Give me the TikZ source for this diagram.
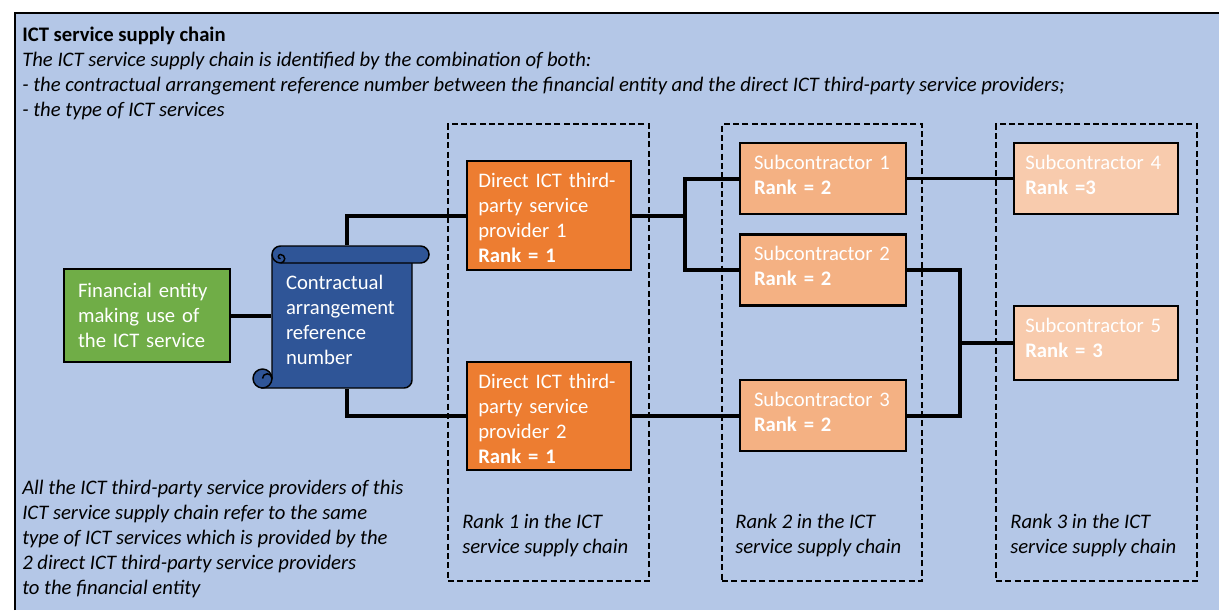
\documentclass[tikz,border=0pt]{standalone}
\usepackage{fontspec}
\setmainfont{Carlito}
\newcommand\diafont{\fontsize{15.5}{18.75}\selectfont}
\definecolor{panelbg}{HTML}{B4C7E7}
\definecolor{entgreen}{HTML}{70AD47}
\definecolor{dirorange}{HTML}{ED7D31}
\definecolor{subtwo}{HTML}{F4B183}
\definecolor{subthree}{HTML}{F8CBAD}
\definecolor{scrollblue}{HTML}{2F5597}
\tikzset{
  box/.style={draw, line width=1.6pt, text=white, align=left, inner xsep=10.5pt,
    inner ysep=0pt, text width=103.5pt, text height=19.5pt},
  widebox/.style={box, inner xsep=8.5pt, text width=106pt},
  rankframe/.style={draw, line width=1.5pt, dash pattern=on 4.5pt off 2.5pt, inner sep=0pt},
  ranklbl/.style={anchor=north west, inner sep=0pt, align=left, font=\diafont\itshape},
  link/.style={line width=3pt},
  thinlink/.style={line width=2.2pt}
}
\begin{document}
\begin{tikzpicture}[x=0.75pt,y=-0.75pt,every node/.style={font=\diafont}]
  \useasboundingbox (0,0) rectangle (1219,610);
  % panel
  \fill[panelbg] (15,13) rectangle (1219,610);
  \draw[line width=2.2pt] (15,610) -- (15,13) -- (1219,13);
  \node[anchor=north west, inner sep=0pt, align=left] (head) at (22,27)
    {\textbf{ICT service supply chain}\\
     \textit{The ICT service supply chain is identified by the combination of both:}\\
     \textit{- the contractual arrangement reference number between the financial entity and the direct ICT third-party service providers;}\\
     \textit{- the type of ICT services}};
  \node[ranklbl] (note) at (22,480)
    {All the ICT third-party service providers of this\\
     ICT service supply chain refer to the same\\
     type of ICT services which is provided by the\\
     2 direct ICT third-party service providers\\
     to the financial entity};
  % rank frames
  \node[rankframe, minimum width=150.75pt, minimum height=342.75pt] (rk1) at (548.5,352.5) {};
  \node[rankframe, minimum width=150pt, minimum height=342.75pt] (rk2) at (822,352.5) {};
  \node[rankframe, minimum width=150.75pt, minimum height=342.75pt] (rk3) at (1096.5,352.5) {};
  \node[ranklbl] (rl1) at (462,514) {Rank 1 in the ICT\\service supply chain};
  \node[ranklbl] (rl2) at (735,514) {Rank 2 in the ICT\\service supply chain};
  \node[ranklbl] (rl3) at (1010,514) {Rank 3 in the ICT\\service supply chain};
  % financial entity
  \node[box, fill=entgreen, text height=21pt, text depth=48.75pt] (fe) at (147,315.5)
    {Financial entity\\making use of\\the ICT service};
  % contract scroll
  \begin{scope}[line width=1.1pt]
    \filldraw[fill=scrollblue] (262.5,388) -- (404,388) arc[start angle=-90,end angle=0,radius=6pt]
      -- (412,255) -- (272,255) -- (272,378.5) -- cycle;
    \filldraw[fill=scrollblue] (262.5,378.5) circle[radius=7.1pt];
    \draw (262.5,378.5) arc[start angle=180,end angle=0,radius=3.56pt];
    \filldraw[fill=scrollblue] (280.5,246) -- (420.5,246) arc[start angle=90,end angle=-90,radius=6.375pt]
      -- (280.5,263) arc[start angle=270,end angle=90,radius=6.375pt] -- cycle;
    \draw (280.5,263) arc[start angle=-90,end angle=90,radius=3.19pt]
      arc[start angle=90,end angle=270,radius=1.6pt];
  \end{scope}
  \node[box, draw=none, text width=84pt, text height=32.25pt, text depth=74.25pt] (crn) at (342,317)
    {Contractual\\arrangement\\reference\\number};
  % direct providers
  \node[widebox, fill=dirorange, text depth=62.25pt] (dp1) at (549,215.5)
    {Direct ICT third-\\party service\\provider 1\\\textbf{Rank = 1}};
  \node[widebox, fill=dirorange, text depth=61.5pt] (dp2) at (549,416)
    {Direct ICT third-\\party service\\provider 2\\\textbf{Rank = 1}};
  % subcontractors
  \node[box, fill=subtwo, text depth=33.75pt] (sc1) at (823,178.5)
    {Subcontractor 1\\\textbf{Rank = 2}};
  \node[box, fill=subtwo, text depth=33.75pt] (sc2) at (823,270)
    {Subcontractor 2\\\textbf{Rank = 2}};
  \node[box, fill=subtwo, text depth=33.75pt] (sc3) at (823,415.5)
    {Subcontractor 3\\\textbf{Rank = 2}};
  \node[widebox, fill=subthree, text depth=33.75pt] (sc4) at (1096,178.5)
    {Subcontractor 4\\\textbf{Rank =3}};
  \node[widebox, fill=subthree, text depth=36pt] (sc5) at (1096,343)
    {Subcontractor 5\\\textbf{Rank = 3}};
  % connectors
  \coordinate (j1) at (685,215.5);
  \coordinate (j2) at (960,343);
  \draw[link] (fe.east) -- (fe.east -| crn.west);
  \draw[link] (dp1.west) -| ([xshift=3.75pt]crn.north);
  \draw[link] (dp2.west) -| ([xshift=3.75pt]crn.south);
  \draw[link] (dp1.east) -- (j1);
  \draw[link] (sc1.west) -| (j1) |- (sc2.west);
  \draw[link] (dp2.east) -- (dp2.east -| sc3.west);
  \draw[thinlink] (sc1.east) -- (sc4.west);
  \draw[link] (sc2.east) -| (j2) |- (sc3.east);
  \draw[link] (j2) -- (j2 -| sc5.west);
\end{tikzpicture}
\end{document}
